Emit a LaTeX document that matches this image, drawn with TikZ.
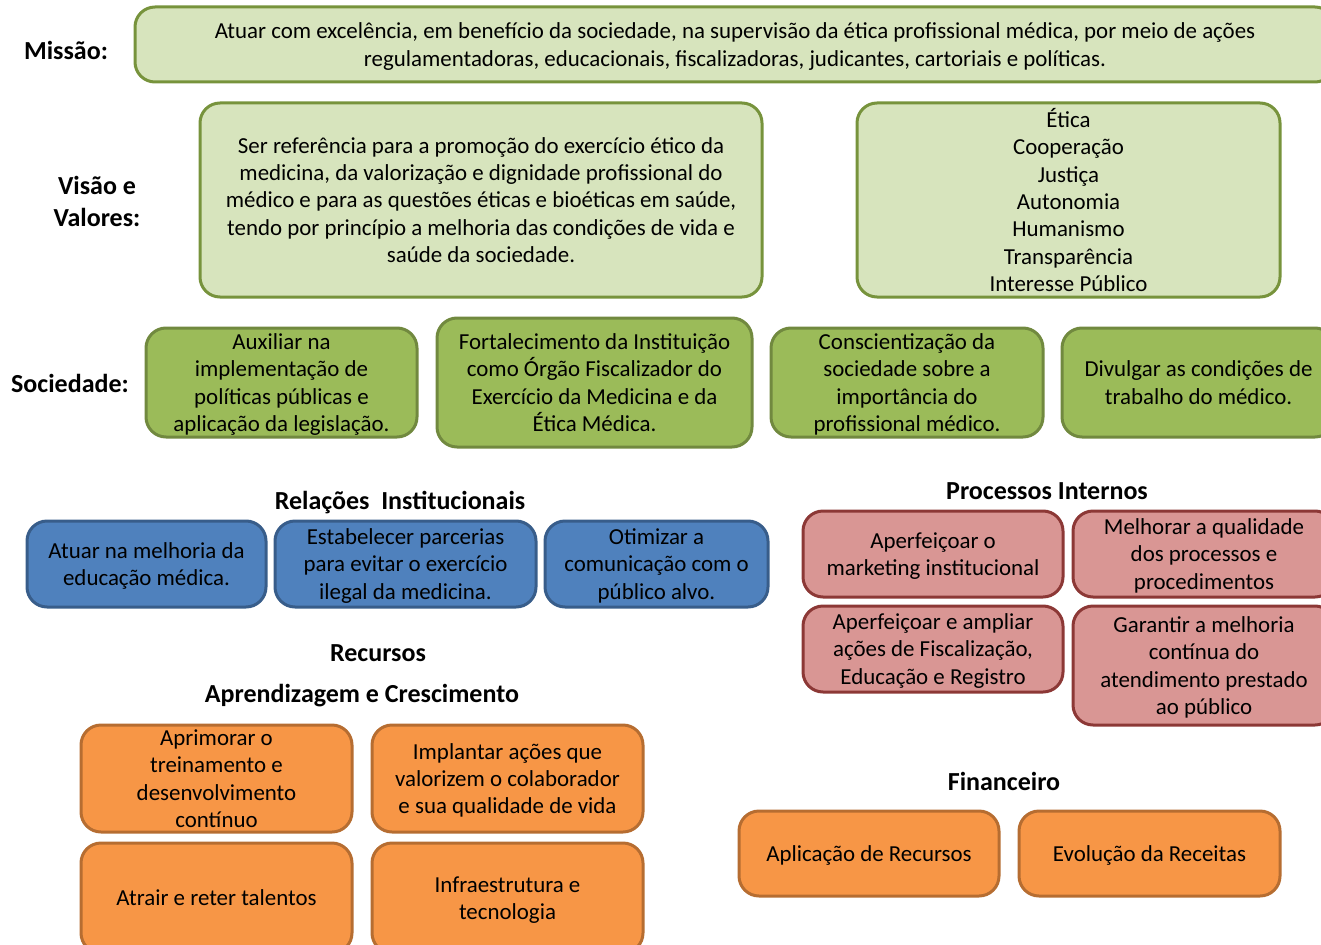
\documentclass[tikz,border=0pt]{standalone}
\usepackage{fontspec}
\setmainfont{Carlito}
\usepackage{tikz}

\definecolor{palegreen}{HTML}{D7E4BD}
\definecolor{palegreenline}{HTML}{77933C}
\definecolor{soilgreen}{HTML}{9BBB59}
\definecolor{soilgreenline}{HTML}{71893F}
\definecolor{steelblue}{HTML}{4F81BD}
\definecolor{steelblueline}{HTML}{385D8A}
\definecolor{rosered}{HTML}{D99694}
\definecolor{roseredline}{HTML}{8C3836}
\definecolor{tangerine}{HTML}{F79646}
\definecolor{tangerineline}{HTML}{B66D31}

\begin{document}
\begin{tikzpicture}[x=1pt,y=-1pt,
  box/.style={draw,rectangle,rounded corners=20pt,line width=3pt,inner sep=0pt,text depth=0pt,align=center,text=black,font=\fontsize{22.9}{27.3}\selectfont},
  pale/.style={box,fill=palegreen,draw=palegreenline},
  soil/.style={box,fill=soilgreen,draw=soilgreenline},
  blue/.style={box,fill=steelblue,draw=steelblueline},
  rose/.style={box,fill=rosered,draw=roseredline},
  orange/.style={box,fill=tangerine,draw=tangerineline},
  head/.style={inner sep=0pt,align=center,font=\fontsize{26}{32}\selectfont\bfseries}]
      \useasboundingbox (0,0) rectangle (1321,944);
      
     \node [head] (lmissao) at (66,50) {Missão:};
     \node [pale,minimum width=1200pt,minimum height=75pt] (missao) at (735,44.5) {Atuar com excelência, em benefício da sociedade, na supervisão da ética profissional médica, por meio de ações\\regulamentadoras, educacionais, fiscalizadoras, judicantes, cartoriais e políticas.};
     
     \node [head] (lvisao) at (97,201) {Visão e\\Valores:};
     \node [pale,minimum width=562pt,minimum height=194pt] (visao) at (481,200) {Ser referência para a promoção do exercício ético da\\medicina, da valorização e dignidade profissional do\\médico e para as questões éticas e bioéticas em saúde,\\tendo por princípio a melhoria das condições de vida e\\saúde da sociedade.};
     \node [pale,minimum width=423pt,minimum height=194pt] (valores) at (1068.5,200) {Ética\\Cooperação\\Justiça\\Autonomia\\Humanismo\\Transparência\\Interesse Público};
     
     \node [head] (lsociedade) at (70,383) {Sociedade:};
     \node [soil,minimum width=271pt,minimum height=109pt] (soca) at (281.5,382.5) {Auxiliar na\\implementação de\\políticas públicas e\\aplicação da legislação.};
     \node [soil,minimum width=315pt,minimum height=129pt] (socb) at (594.5,382.5) {Fortalecimento da Instituição\\como Órgão Fiscalizador do\\Exercício da Medicina e da\\Ética Médica.};
     \node [soil,minimum width=272pt,minimum height=109pt] (socc) at (907,382.5) {Conscientização da\\sociedade sobre a\\importância do\\profissional médico.};
     \node [soil,minimum width=273pt,minimum height=109pt] (socd) at (1198.5,382.5) {Divulgar as condições de\\trabalho do médico.};
     
     \node [head] (lrelacoes) at (400,503) {Relações\ \ Institucionais};
     \node [blue,minimum width=239pt,minimum height=86pt] (rela) at (146.5,564) {Atuar na melhoria da\\educação médica.};
     \node [blue,minimum width=261pt,minimum height=86pt] (relb) at (405.5,564) {Estabelecer parcerias\\para evitar o exercício\\ilegal da medicina.};
     \node [blue,minimum width=223pt,minimum height=86pt] (relc) at (656.5,564) {Otimizar a\\comunicação com o\\público alvo.};
     
     \node [head] (lprocessos) at (1047,491) {Processos Internos};
     \node [rose,minimum width=260pt,minimum height=86pt] (proca) at (933,554) {Aperfeiçoar o\\marketing institucional};
     \node [rose,minimum width=262pt,minimum height=86pt] (procb) at (1204,554) {Melhorar a qualidade\\dos processos e\\procedimentos};
     \node [rose,minimum width=260pt,minimum height=86pt] (procc) at (933,649) {Aperfeiçoar e ampliar\\ações de Fiscalização,\\Educação e Registro};
     \node [rose,minimum width=262pt,minimum height=119pt] (procd) at (1204,665.5) {Garantir a melhoria\\contínua do\\atendimento prestado\\ao público};
     
     \node [head] (lrecursos) at (378,653) {Recursos};
     \node [head] (laprendizagem) at (362,696) {Aprendizagem e Crescimento};
     \node [orange,minimum width=271pt,minimum height=107pt] (apra) at (216.5,778.5) {Aprimorar o\\treinamento e\\desenvolvimento\\contínuo};
     \node [orange,minimum width=271pt,minimum height=107pt] (aprb) at (507.5,778.5) {Implantar ações que\\valorizem o colaborador\\e sua qualidade de vida};
     \node [orange,minimum width=271pt,minimum height=110pt] (aprc) at (216.5,898) {Atrair e reter talentos};
     \node [orange,minimum width=271pt,minimum height=110pt] (aprd) at (507.5,898) {Infraestrutura e\\tecnologia};
     
     \node [head] (lfinanceiro) at (1004,781) {Financeiro};
     \node [orange,minimum width=260pt,minimum height=85pt] (fina) at (869,853.5) {Aplicação de Recursos};
     \node [orange,minimum width=261pt,minimum height=85pt] (finb) at (1149.5,853.5) {Evolução da Receitas};
 
  \end{tikzpicture}
\end{document}
